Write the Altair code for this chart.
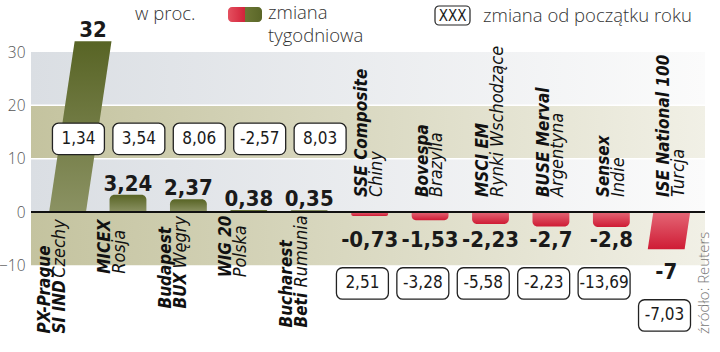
import altair as alt
import pandas as pd
import numpy as np

# ---------------- data ----------------
names = ["PX-Prague", "MICEX", "Budapest", "WIG 20", "Bucharest", "SSE Composite",
         "Bovespa", "MSCI EM", "BUSE Merval", "Sensex", "ISE National 100"]
line2_bold = ["SI IND", "", "BUX", "", "Beti", "", "", "", "", "", ""]
countries = ["Czechy", "Rosja", "Węgry", "Polska", "Rumunia", "Chiny", "Brazylia",
             "Rynki Wschodzące", "Argentyna", "Indie", "Turcja"]
weekly = [32, 3.24, 2.37, 0.38, 0.35, -0.73, -1.53, -2.23, -2.7, -2.8, -7]
ytd = [1.34, 3.54, 8.06, -2.57, 8.03, 2.51, -3.28, -5.58, -2.23, -13.69, -7.03]
y_ticks = [-10, 0, 10, 20, 30]
band_edges = [30, 20, 10, 0, -10]

# ---------------- layout / style constants ----------------
W, H = 674, 352
X_DOM = [-0.605, 10.55]
Y_DOM = [-26.25, 39.75]
PXU = H / (Y_DOM[1] - Y_DOM[0])          # pixels per value unit
HALF_BAR = 0.305
SLANT = 0.0132                            # x-units per value unit for slanted bars
SLANTED = {"PX-Prague", "ISE National 100"}
FONT_C = "DejaVu Sans Condensed"
FONT_L = "Open Sans"
LBL_B = 17
LBL_R = 18

XS = alt.Scale(domain=X_DOM, nice=False, zero=False)
YS = alt.Scale(domain=Y_DOM, nice=False, zero=False)


def fmt(v):
    return f"{v:g}".replace(".", ",")


def est_w(s, bold):
    size = LBL_B if bold else LBL_R
    w = 0.0
    for ch in s:
        if ch in "ilIj.,:;' |!":
            w += 0.34 if bold else 0.28
        elif ch in "tfr-":
            w += 0.50 if bold else 0.40
        elif ch in "mwMW":
            w += 1.04 if bold else 0.92
        elif ch.isdigit():
            w += 0.70 if bold else 0.64
        elif ch.isupper():
            w += 0.76 if bold else 0.70
        else:
            w += 0.67 if bold else 0.60
    return w * 0.9 * size


# ---------------- tables ----------------
idx = list(range(len(names)))
bars = pd.DataFrame({"name": names, "idx": idx, "v": weekly, "ytd": ytd})
bars["slanted"] = bars["name"].isin(SLANTED)
bars["y0"] = 0.0
bars["xl"] = bars["idx"] - HALF_BAR
bars["xr"] = bars["idx"] + HALF_BAR
bars["lab"] = [fmt(v) for v in weekly]
bars["lx"] = bars["idx"] + np.where(bars["slanted"], SLANT * bars["v"], 0.0)
bars["ly"] = np.where(bars["v"] > 0, bars["v"],
                      np.where(bars["v"] > -5, -3.4, bars["v"] - 2.4))
bars["ytd_lab"] = [fmt(v) for v in ytd]
bars["bx"] = bars["idx"] + np.where(bars["v"] > 0, 0.18, -0.12)
bars["by"] = np.where(bars["v"] > 0, 13.7, bars["ly"] - 10.0)
bars["bx1"] = bars["bx"] - 0.43
bars["bx2"] = bars["bx"] + 0.43
bars["by1"] = bars["by"] - 2.95
bars["by2"] = bars["by"] + 2.95

plain = bars[~bars["slanted"]]

# slanted bars as horizontal areas (two rows each: base and end)
srows = []
for _, r in bars[bars["slanted"]].iterrows():
    for yy in (0.0, r["v"]):
        srows.append({"name": r["name"], "v": yy, "sign": "pos" if r["v"] > 0 else "neg",
                      "xa": r["idx"] - HALF_BAR + SLANT * yy,
                      "xb": r["idx"] + HALF_BAR + SLANT * yy})
slant_df = pd.DataFrame(srows)

# category labels
lrows = []
space_w = est_w(" ", True)
for i, nm in enumerate(names):
    v = weekly[i]
    lines = [[(nm, True)]]
    if line2_bold[i]:
        lines.append([(line2_bold[i], True), (countries[i], False)])
    else:
        lines.append([(countries[i], False)])
    widths = [sum(est_w(t, b) for t, b in ln) + space_w * (len(ln) - 1) for ln in lines]
    if v > 0:
        start = -1.1 - max(widths) / PXU
        cx = i - 0.25
    else:
        start = 2.8
        cx = i + 0.0
    for k, ln in enumerate(lines):
        off = 0.0
        for t, b in ln:
            lrows.append({"x": cx + (-0.122 if k == 0 else 0.122),
                          "y": start + off / PXU, "t": t, "bold": b})
            off += est_w(t, b) + space_w
labels = pd.DataFrame(lrows)

bands = pd.DataFrame({"top": band_edges[:-1], "bot": band_edges[1:],
                      "kind": ["grey", "khaki", "grey", "khaki"]})
bands["x1"] = X_DOM[0]
bands["x2"] = X_DOM[1]

rules = pd.DataFrame({"y": [10, 20], "x1": X_DOM[0], "x2": X_DOM[1]})
zero = pd.DataFrame({"y": [0], "x1": X_DOM[0], "x2": X_DOM[1]})
dummy = pd.DataFrame({"k": [0]})


def hgrad(c1, c2):
    return alt.Gradient(gradient="linear", x1=0, x2=1, y1=0, y2=0,
                        stops=[alt.GradientStop(color=c1, offset=0),
                               alt.GradientStop(color=c2, offset=1)])


def vgrad(c1, c2):
    return alt.Gradient(gradient="linear", x1=0, x2=0, y1=0, y2=1,
                        stops=[alt.GradientStop(color=c1, offset=0),
                               alt.GradientStop(color=c2, offset=1)])


OLIVE = vgrad("#586425", "#8b9263")
RED = vgrad("#e46776", "#cf1c35")

yaxis = alt.Axis(values=y_ticks, ticks=False, domain=False, grid=False, title=None,
                 labelFont=FONT_L, labelFontSize=15.5, labelFontWeight=300,
                 labelColor="#555", labelPadding=6)

# ---------------- layers ----------------
band_grey = alt.Chart(bands[bands["kind"] == "grey"]).mark_rect(
    color=hgrad("#dadee3", "#fbfbfb")).encode(
    x=alt.X("x1:Q", scale=XS, axis=None), x2="x2:Q",
    y=alt.Y("top:Q", scale=YS, axis=yaxis), y2="bot:Q")
band_khaki = alt.Chart(bands[bands["kind"] == "khaki"]).mark_rect(
    color=hgrad("#c4c39f", "#f1f0e6")).encode(
    x=alt.X("x1:Q", scale=XS, axis=None), x2="x2:Q",
    y=alt.Y("top:Q", scale=YS), y2="bot:Q")
white_rules = alt.Chart(rules).mark_rule(color="white", strokeWidth=1.5).encode(
    x=alt.X("x1:Q", scale=XS), x2="x2:Q", y=alt.Y("y:Q", scale=YS))

pos_bars = alt.Chart(plain[plain["v"] > 0]).mark_rect(
    color=OLIVE, cornerRadiusTopLeft=5, cornerRadiusTopRight=5).encode(
    x=alt.X("xl:Q", scale=XS), x2="xr:Q", y=alt.Y("v:Q", scale=YS), y2="y0:Q")
neg_bars = alt.Chart(plain[plain["v"] < 0]).mark_rect(
    color=RED, cornerRadiusBottomLeft=5, cornerRadiusBottomRight=5).encode(
    x=alt.X("xl:Q", scale=XS), x2="xr:Q", y=alt.Y("v:Q", scale=YS), y2="y0:Q")

slant_pos = alt.Chart(slant_df[slant_df["sign"] == "pos"]).mark_area(
    orient="horizontal", color=OLIVE).encode(
    y=alt.Y("v:Q", scale=YS), x=alt.X("xa:Q", scale=XS), x2="xb:Q", detail="name:N")
slant_neg = alt.Chart(slant_df[slant_df["sign"] == "neg"]).mark_area(
    orient="horizontal", color=RED).encode(
    y=alt.Y("v:Q", scale=YS), x=alt.X("xa:Q", scale=XS), x2="xb:Q", detail="name:N")

zero_rule = alt.Chart(zero).mark_rule(color="#111", strokeWidth=2).encode(
    x=alt.X("x1:Q", scale=XS), x2="x2:Q", y=alt.Y("y:Q", scale=YS))

val_pos = alt.Chart(bars[bars["v"] > 0]).mark_text(
    font=FONT_C, fontWeight="bold", fontSize=22, color="#1a1a1a",
    baseline="alphabetic", align="center", dy=-4).encode(
    x=alt.X("lx:Q", scale=XS), y=alt.Y("ly:Q", scale=YS), text="lab:N")
val_neg = alt.Chart(bars[bars["v"] < 0]).mark_text(
    font=FONT_C, fontWeight="bold", fontSize=22, color="#1a1a1a",
    baseline="top", align="center").encode(
    x=alt.X("lx:Q", scale=XS), y=alt.Y("ly:Q", scale=YS), text="lab:N")

boxes = alt.Chart(bars).mark_rect(
    fill="white", stroke="#222", strokeWidth=1.3, cornerRadius=6).encode(
    x=alt.X("bx1:Q", scale=XS), x2="bx2:Q", y=alt.Y("by1:Q", scale=YS), y2="by2:Q")
box_txt = alt.Chart(bars).mark_text(
    font=FONT_C, fontSize=17, color="#1a1a1a", baseline="middle", align="center").encode(
    x=alt.X("bx:Q", scale=XS), y=alt.Y("by:Q", scale=YS), text="ytd_lab:N")

lab_bold = alt.Chart(labels[labels["bold"]]).mark_text(
    font=FONT_C, fontWeight="bold", fontStyle="italic", fontSize=LBL_B, color="#111",
    angle=270, align="left", baseline="middle").encode(
    x=alt.X("x:Q", scale=XS), y=alt.Y("y:Q", scale=YS), text="t:N")
lab_reg = alt.Chart(labels[~labels["bold"]]).mark_text(
    font=FONT_C, fontStyle="italic", fontSize=LBL_R, color="#111",
    angle=270, align="left", baseline="middle").encode(
    x=alt.X("x:Q", scale=XS), y=alt.Y("y:Q", scale=YS), text="t:N")

# ---------------- legend / annotations (pixel placed) ----------------
def ltext(t, x, y, size=18.5, color="#333", **kw):
    return alt.Chart(dummy).mark_text(font=FONT_L, fontSize=size, fontWeight=300,
                                      color=color, align="left",
                                      baseline="alphabetic", **kw).encode(
        x=alt.value(x), y=alt.value(y), text=alt.value(t))

swatch = alt.Chart(dummy).mark_rect(
    cornerRadius=4,
    color=alt.Gradient(gradient="linear", x1=0, x2=1, y1=0, y2=0,
                       stops=[alt.GradientStop(color="#e4505f", offset=0),
                              alt.GradientStop(color="#d2233a", offset=0.5),
                              alt.GradientStop(color="#6c7735", offset=0.5),
                              alt.GradientStop(color="#5a6628", offset=1)])).encode(
    x=alt.value(197), x2=alt.value(231), y=alt.value(7), y2=alt.value(22))
xxx_box = alt.Chart(dummy).mark_rect(
    fill="white", stroke="#222", strokeWidth=1.2, cornerRadius=4).encode(
    x=alt.value(404), x2=alt.value(439), y=alt.value(6), y2=alt.value(25))
xxx_txt = alt.Chart(dummy).mark_text(
    font=FONT_C, fontSize=15, color="#1a1a1a", align="center", baseline="middle").encode(
    x=alt.value(421.5), y=alt.value(16), text=alt.value("XXX"))

legend = [
    ltext("w proc.", 104, 20),
    swatch,
    ltext("zmiana", 237, 19),
    ltext("tygodniowa", 237, 42),
    xxx_box, xxx_txt,
    ltext("zmiana od początku roku", 452, 22),
    ltext("źródło: Reuters", 678, 334, size=15, color="#777", angle=270),
]

chart = alt.layer(
    band_grey, band_khaki, white_rules,
    pos_bars, neg_bars, slant_pos, slant_neg, zero_rule,
    val_pos, val_neg, boxes, box_txt, lab_bold, lab_reg,
    *legend
).properties(
    width=W, height=H,
    padding={"left": 31, "top": 0, "right": 15, "bottom": 0},
    autosize=alt.AutoSizeParams(type="none"),
    background="white",
).configure_view(stroke=None)

chart.save("out.html", embed_options={"renderer": "svg", "actions": False})
